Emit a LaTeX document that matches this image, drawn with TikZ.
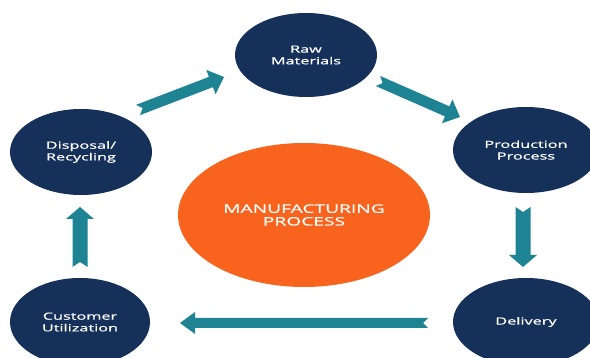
\documentclass[tikz,border=0pt]{standalone}
\usepackage{fontspec}
\newfontfamily\stagefont[FakeStretch=1.64, FakeBold=0.6]{Open Sans}
\usetikzlibrary{shapes, calc}
\definecolor{navy}{RGB}{21,48,89}
\definecolor{flame}{RGB}{248,100,30}
\definecolor{flowteal}{RGB}{30,132,148}
\tikzset{
  stage/.style={
    ellipse,
    fill=navy,
    text=white,
    inner sep=0pt,
    align=center,
    minimum width=142pt,
    minimum height=86pt,
    font=\stagefont\fontsize{9.9}{11.7}\selectfont
  },
  core/.style={
    ellipse,
    fill=flame,
    text=white,
    inner sep=0pt,
    align=center,
    minimum width=252pt,
    minimum height=144pt,
    font=\stagefont\fontsize{11.7}{12.7}\selectfont
  },
  % fat arrow with a notched tail: {shaft half width}{head half width}{head length}
  flow/.style n args={3}{
    fill=flowteal,
    to path={
      ($(\tikztostart)!#1!90:(\tikztotarget)$)
      -- ($($(\tikztotarget)!#3!(\tikztostart)$)!#1!-90:(\tikztostart)$)
      -- ($($(\tikztotarget)!#3!(\tikztostart)$)!#2!-90:(\tikztostart)$)
      -- (\tikztotarget)
      -- ($($(\tikztotarget)!#3!(\tikztostart)$)!#2!90:(\tikztostart)$)
      -- ($($(\tikztotarget)!#3!(\tikztostart)$)!#1!90:(\tikztostart)$)
      -- ($(\tikztostart)!#1!-90:(\tikztotarget)$)
      -- ($(\tikztostart)!5pt!(\tikztotarget)$)
      -- cycle
    }
  }
}

\begin{document}
\begin{tikzpicture}[x=1pt, y=-1pt]
\useasboundingbox (0,0) rectangle (590,358);
\clip (0,0) rectangle (590,358);

% nodes
\node[core] (mfg) at (304,215) {MANUFACTURING\\PROCESS};

\node[stage, minimum height=84pt] (raw) at (306,55) {Raw\\Materials};
\node[stage, minimum width=146pt] (prod) at (526,150) {Production\\Process};
\node[stage, minimum width=146pt, minimum height=88pt] (deliv) at (526,322) {Delivery};
\node[stage, minimum width=140pt, minimum height=88pt] (cust) at (80,322) {Customer\\Utilization};
\node[stage] (disp) at (81,152) {Disposal/\\Recycling};

% edges
\coordinate (d2r-s) at (138,110);
\coordinate (d2r-e) at (224,77);
\path[flow={5.5pt}{13pt}{14pt}] (d2r-s) to (d2r-e);

\coordinate (r2p-s) at (378,81);
\coordinate (r2p-e) at (460,117);
\path[flow={5.5pt}{13pt}{14pt}] (r2p-s) to (r2p-e);

\coordinate (p2d-s) at (523,207);
\coordinate (p2d-e) at (523,267);
\path[flow={7.5pt}{14pt}{12pt}] (p2d-s) to (p2d-e);

\coordinate (d2c-s) at (428,323);
\coordinate (d2c-e) at (180,323);
\path[flow={5pt}{11pt}{15pt}] (d2c-s) to (d2c-e);

\coordinate (c2d-s) at (80,267);
\coordinate (c2d-e) at (80,207);
\path[flow={7.5pt}{14pt}{12pt}] (c2d-s) to (c2d-e);
\end{tikzpicture}
\end{document}
